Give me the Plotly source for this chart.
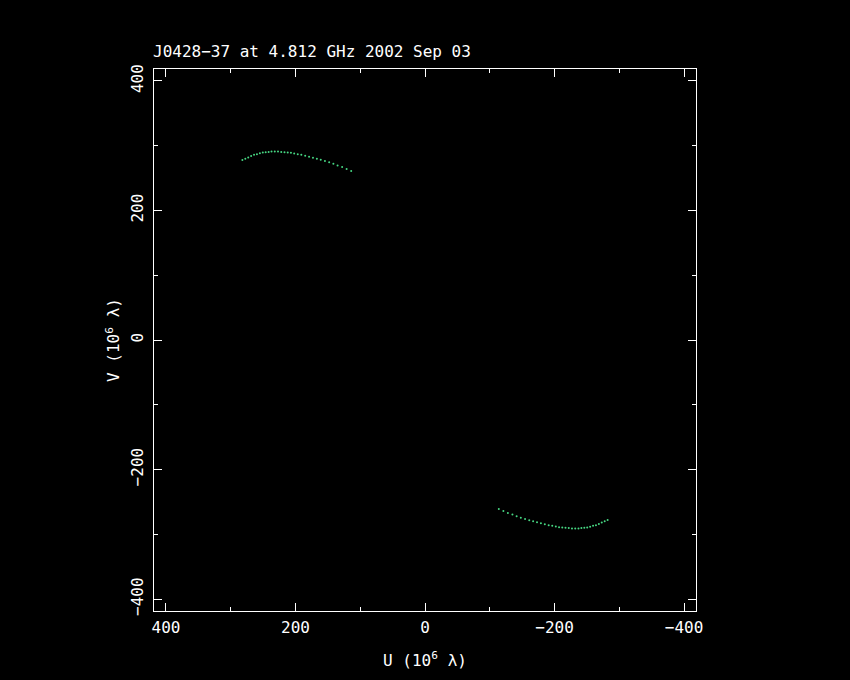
import plotly.graph_objects as go

# Upper arc (U, V in 10^6 lambda)
u_upper = [282, 277.5, 273, 268.5, 264, 259.5, 255, 250.5, 246, 241.5, 237, 232, 227, 222, 217, 212,
           207, 202, 196.5, 191, 185, 179, 173, 167, 161, 154.5, 148, 141.5, 135, 128, 121, 114]
v_upper = [278, 280, 282, 284, 286, 287, 288.5, 289.5, 290, 290.5, 291, 291, 291, 290.5, 290, 289.5,
           289, 288, 287, 286, 284.5, 283, 281.5, 280, 278.5, 276.5, 274.5, 272, 269.5, 267, 264, 261]
# Lower arc (conjugate points)
u_lower = [-282, -277.5, -273, -268.5, -264, -259.5, -255, -250.5, -246, -241.5, -237, -232, -227, -222, -217, -212,
           -207, -202, -196.5, -191, -185, -179, -173, -167, -161, -154.5, -148, -141.5, -135, -128, -121, -114]
v_lower = [-278, -280, -282, -284, -286, -287, -288.5, -289.5, -290, -290.5, -291, -291, -291, -290.5, -290, -289.5,
           -289, -288, -287, -286, -284.5, -283, -281.5, -280, -278.5, -276.5, -274.5, -272, -269.5, -267, -264, -261]

title_text = "J0428\u221237 at 4.812 GHz 2002 Sep 03"
tick_vals = [-400, -200, 0, 200, 400]
tick_text = ["\u2212400", "\u2212200", "0", "200", "400"]

FONT = "DejaVu Sans Mono"
green = "rgb(70,215,130)"

fig = go.Figure()
for u, v in ((u_upper, v_upper), (u_lower, v_lower)):
    fig.add_trace(go.Scatter(x=u, y=v, mode="markers",
                             marker=dict(size=2, color=green, line=dict(width=0)),
                             showlegend=False, hoverinfo="skip"))

axis_common = dict(
    showline=True, linecolor="white", linewidth=1, mirror="allticks",
    showgrid=False, zeroline=False,
    ticks="inside", ticklen=8, tickwidth=1, tickcolor="white",
    tickvals=tick_vals, ticktext=tick_text,
    tickfont=dict(family=FONT, size=16, color="white"),
    minor=dict(ticks="inside", ticklen=4, tickwidth=1, tickcolor="white", dtick=100, tick0=0, showgrid=False),
)

fig.update_layout(
    width=850, height=680,
    paper_bgcolor="black", plot_bgcolor="black",
    margin=dict(l=154, r=154, t=69, b=69),
    xaxis=dict(range=[418.5, -418.5], ticklabelstandoff=2, **axis_common,
               title=dict(text="U (10<sup>6</sup> \u03bb)", font=dict(family=FONT, size=16, color="white"), standoff=18)),
    yaxis=dict(range=[-418.5, 418.5], tickangle=-90, ticklabelstandoff=4, **axis_common,
               title=dict(text="V (10<sup>6</sup> \u03bb)", font=dict(family=FONT, size=16, color="white"), standoff=3)),
    annotations=[dict(text=title_text, xref="paper", yref="paper", x=0, y=1, xanchor="left", yanchor="middle",
                      xshift=-3, yshift=18, showarrow=False, font=dict(family=FONT, size=16, color="white"))],
)

fig.write_html("out.html", config={"displayModeBar": False},
               post_script="document.body.style.margin='0';document.body.style.background='black';")
